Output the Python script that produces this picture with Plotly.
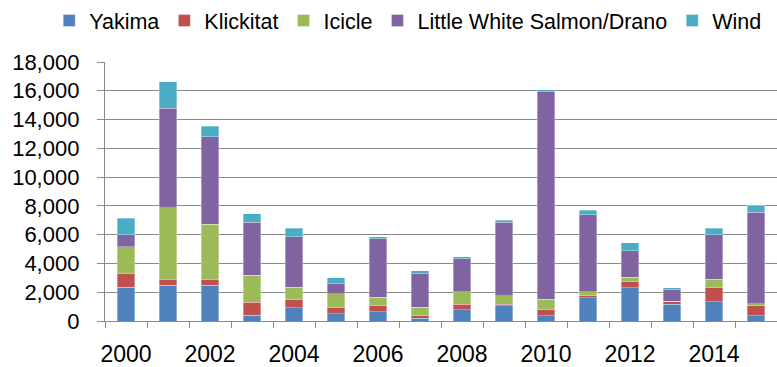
import plotly.graph_objects as go

# Annual counts by stream, stacked per year
years = list(range(2000, 2016))
yakima =    [2340, 2480, 2480, 390, 930, 500, 640, 200, 770, 1070, 360, 1620, 2320, 1180, 1340, 360]
klickitat = [980, 410, 410, 930, 550, 410, 410, 160, 410, 110, 410, 130, 430, 160, 980, 690]
icicle =    [1850, 4980, 3850, 1870, 860, 980, 590, 600, 870, 590, 730, 300, 300, 50, 590, 160]
lws_drano = [840, 6900, 6050, 3660, 3530, 700, 4070, 2340, 2270, 5080, 14430, 5340, 1820, 790, 3100, 6350]
wind =      [1140, 1860, 730, 590, 570, 430, 160, 180, 140, 160, 130, 320, 570, 140, 430, 470]

series = [
    ("Yakima", yakima, "#4F81BD"),
    ("Klickitat", klickitat, "#C0504D"),
    ("Icicle", icicle, "#9BBB59"),
    ("Little White Salmon/Drano", lws_drano, "#8064A2"),
    ("Wind", wind, "#4BACC6"),
]

FONT = "Arial, Liberation Sans, sans-serif"
GRID = "#8a8a8a"

fig = go.Figure()
for name, vals, color in series:
    fig.add_trace(go.Bar(
        x=years, y=vals, name=name, width=0.41,
        marker=dict(color=color, line=dict(color="rgba(255,255,255,0.55)", width=0.6)),
    ))

fig.update_layout(
    barmode="stack",
    width=777, height=367,
    margin=dict(l=105, r=0, t=59, b=44),
    paper_bgcolor="white", plot_bgcolor="white",
    font=dict(family=FONT, color="black", size=22),
    legend=dict(
        orientation="h", traceorder="normal",
        x=-0.083, xanchor="left", y=1.16, yanchor="middle",
        font=dict(size=21.5), itemwidth=30, tracegroupgap=0,
        bgcolor="rgba(0,0,0,0)",
    ),
    xaxis=dict(
        range=[1999.5, 2015.5],
        tickmode="array", tickvals=years[::2], ticktext=[str(y) for y in years[::2]],
        ticks="outside", ticklen=12, tickcolor="rgba(0,0,0,0)",
        tickfont=dict(size=23),
        showgrid=False, zeroline=False,
        showline=True, linecolor=GRID, linewidth=1.3,
        minor=dict(tick0=1999.5, dtick=1, ticks="outside", ticklen=6,
                   tickcolor=GRID, tickwidth=1.3, showgrid=False),
    ),
    yaxis=dict(
        range=[0, 18000], dtick=2000, tickformat=",d",
        ticks="outside", ticklen=7, tickcolor=GRID, tickwidth=1.3,
        ticklabelstandoff=13,
        tickfont=dict(size=22),
        showgrid=True, gridcolor=GRID, gridwidth=1.3,
        zeroline=False, showline=True, linecolor=GRID, linewidth=1.3,
    ),
    showlegend=True,
)

fig.write_html("out.html")
